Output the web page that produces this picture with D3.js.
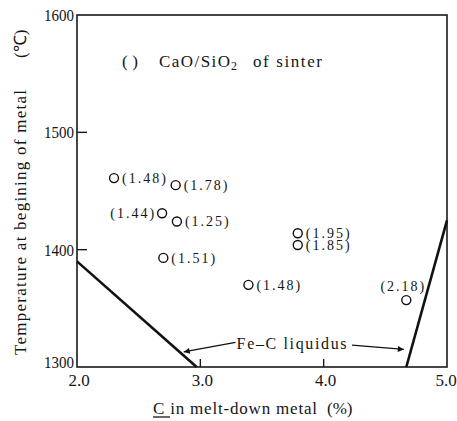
<!DOCTYPE html>
<html><head><meta charset="utf-8">
<script src="https://cdn.jsdelivr.net/npm/d3@7"></script>
<style>
html,body{margin:0;padding:0;background:#fff;}
svg{display:block;}
text{font-family:"Liberation Serif","Times New Roman",serif;fill:#151515;}
</style></head>
<body>
<script>
// ---- data ----
const carbon = [2.30, 2.80, 2.69, 2.81, 2.70, 3.39, 3.79, 3.79, 4.67];
const temperature = [1461, 1455, 1431, 1424, 1393, 1370, 1414, 1404, 1357];
const basicity = ["(1.48)", "(1.78)", "(1.44)", "(1.25)", "(1.51)", "(1.48)", "(1.95)", "(1.85)", "(2.18)"];
const labelSide = ["r", "r", "l", "r", "r", "r", "r", "r", "t"];
const liquidusLeftC = [2.0, 2.97];
const liquidusLeftT = [1390, 1300];
const liquidusRightC = [4.67, 5.0];
const liquidusRightT = [1300, 1425];
const xTicks = [2.0, 3.0, 4.0, 5.0];
const xTickLabels = ["2.0", "3.0", "4.0", "5.0"];
const yTicks = [1300, 1400, 1500, 1600];
const yTickLabels = ["1300", "1400", "1500", "1600"];

const W = 457, H = 421;
const svg = d3.select("body").append("svg").attr("width", W).attr("height", H);
const x = d3.scaleLinear().domain([2, 5]).range([77, 447]);
const y = d3.scaleLinear().domain([1300, 1600]).range([367, 15]);

// frame
svg.append("rect").attr("x", x(2)).attr("y", y(1600))
  .attr("width", x(5) - x(2)).attr("height", y(1300) - y(1600))
  .attr("fill", "none").attr("stroke", "#1a1a1a").attr("stroke-width", 1.6);

// inner ticks
svg.selectAll(".yt").data(yTicks.filter(t => t > 1300 && t < 1600)).enter().append("line")
  .attr("x1", x(2)).attr("x2", x(2) + 10).attr("y1", d => y(d)).attr("y2", d => y(d))
  .attr("stroke", "#1a1a1a").attr("stroke-width", 1.4);
svg.selectAll(".xt").data(xTicks.filter(t => t > 2 && t < 5)).enter().append("line")
  .attr("x1", d => x(d)).attr("x2", d => x(d)).attr("y1", y(1300)).attr("y2", y(1300) - 8)
  .attr("stroke", "#1a1a1a").attr("stroke-width", 1.4);

// tick labels
svg.selectAll(".ytl").data(yTicks).enter().append("text")
  .attr("x", x(2) - 3).attr("y", d => d === 1300 ? y(d) - 5 : y(d)).attr("dy", "0.35em")
  .attr("text-anchor", "end").attr("font-size", 17)
  .attr("textLength", 30).attr("lengthAdjust", "spacingAndGlyphs")
  .text((d, i) => yTickLabels[i]);
svg.selectAll(".xtl").data(xTicks).enter().append("text")
  .attr("x", d => Math.min(x(d) + 2, W - 11)).attr("y", y(1300) + 13).attr("dy", "0.35em")
  .attr("text-anchor", "middle").attr("font-size", 17)
  .text((d, i) => xTickLabels[i]);

// axis titles
const yt = svg.append("g").attr("transform", "translate(20,355) rotate(-90)");
yt.append("text").attr("x", 0).attr("y", 0).attr("dy", "0.35em").attr("font-size", 17)
  .attr("textLength", 265).text("Temperature at begining of metal");
yt.append("text").attr("x", 297).attr("y", 0).attr("dy", "0.35em").attr("font-size", 17)
  .text("(℃)");

svg.append("text").attr("x", 153).attr("y", 408).attr("dy", "0.35em").attr("font-size", 17)
  .attr("textLength", 164).text("C in melt-down metal");
svg.append("text").attr("x", 327).attr("y", 408).attr("dy", "0.35em").attr("font-size", 17).text("(%)");
svg.append("line").attr("x1", 153).attr("x2", 170).attr("y1", 417).attr("y2", 417)
  .attr("stroke", "#1a1a1a").attr("stroke-width", 1.3);

// legend
svg.append("text").attr("x", 122).attr("y", 61).attr("dy", "0.35em").attr("font-size", 17)
  .attr("textLength", 16).text("( )");
svg.append("text").attr("x", 159).attr("y", 61).attr("dy", "0.35em").attr("font-size", 17)
  .attr("textLength", 71).text("CaO/SiO");
svg.append("text").attr("x", 231).attr("y", 66).attr("dy", "0.35em").attr("font-size", 12).text("2");
svg.append("text").attr("x", 253).attr("y", 61).attr("dy", "0.35em").attr("font-size", 17)
  .attr("textLength", 69).text("of sinter");

// liquidus lines
const line = d3.line().x(d => x(d[0])).y(d => y(d[1]));
svg.append("path").attr("d", line(liquidusLeftC.map((c, i) => [c, liquidusLeftT[i]])))
  .attr("fill", "none").attr("stroke", "#111").attr("stroke-width", 2.6);
svg.append("path").attr("d", line(liquidusRightC.map((c, i) => [c, liquidusRightT[i]])))
  .attr("fill", "none").attr("stroke", "#111").attr("stroke-width", 2.6);

// liquidus annotation
svg.append("defs").append("marker").attr("id", "ah").attr("viewBox", "0 0 10 10")
  .attr("refX", 10).attr("refY", 5).attr("markerWidth", 9).attr("markerHeight", 6)
  .attr("orient", "auto").attr("markerUnits", "userSpaceOnUse")
  .append("path").attr("d", "M0,0 L10,5 L0,10 Z").attr("fill", "#111");
svg.append("text").attr("x", x(3.74)).attr("y", y(1320)).attr("dy", "0.35em")
  .attr("text-anchor", "middle").attr("font-size", 16).attr("textLength", 110).text("Fe\u2013C liquidus");
svg.append("line").attr("x1", x(3.285)).attr("y1", y(1321)).attr("x2", x(2.865)).attr("y2", y(1312.8))
  .attr("stroke", "#111").attr("stroke-width", 1.3).attr("marker-end", "url(#ah)");
svg.append("line").attr("x1", x(4.23)).attr("y1", y(1318.7)).attr("x2", x(4.65)).attr("y2", y(1315))
  .attr("stroke", "#111").attr("stroke-width", 1.3).attr("marker-end", "url(#ah)");

// points
const pts = carbon.map((c, i) => ({c, t: temperature[i], lab: basicity[i], side: labelSide[i]}));
svg.selectAll(".pt").data(pts).enter().append("circle")
  .attr("cx", d => x(d.c)).attr("cy", d => y(d.t)).attr("r", 4.5)
  .attr("fill", "#fff").attr("stroke", "#111").attr("stroke-width", 1.4);
svg.selectAll(".pl").data(pts).enter().append("text")
  .attr("x", d => d.side === "r" ? x(d.c) + 8 : d.side === "l" ? x(d.c) - 6 : x(d.c) - 3)
  .attr("y", d => d.side === "t" ? y(d.t) - 14 : y(d.t))
  .attr("dy", "0.35em")
  .attr("text-anchor", d => d.side === "r" ? "start" : d.side === "l" ? "end" : "middle")
  .attr("font-size", 14).attr("letter-spacing", "2px")
  .text(d => d.lab);
</script>
</body></html>
